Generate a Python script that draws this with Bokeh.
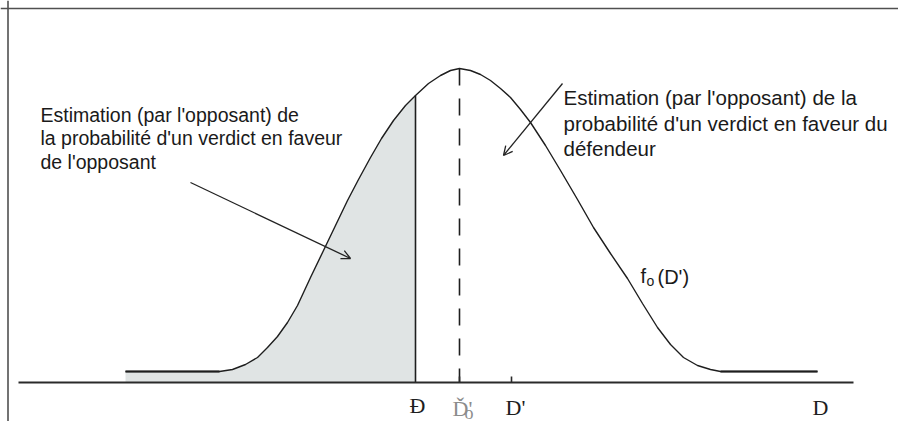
from bokeh.plotting import figure
from bokeh.models import Range1d, Span, Arrow, OpenHead
from bokeh.core.properties import value
from bokeh.embed import file_html
from bokeh.resources import INLINE

# ---- data (horizontal position, height above the D axis) ----
curve_x = [125, 219, 232, 245, 257, 267, 277, 287, 297, 310, 323, 335, 347, 358, 370,
           381, 393, 405, 415, 428, 440, 450, 459, 470, 480, 490, 500, 510, 520, 530,
           545, 560, 577, 593, 610, 627, 642, 657, 670, 683, 697, 710, 720, 817]
curve_h = [11, 11, 13, 18, 25, 35, 46, 60, 77, 105, 132, 157, 182, 203, 225,
           244, 262, 277, 287, 299, 307, 312, 314, 312, 308, 302, 294, 285, 273, 260,
           237, 212, 183, 155, 129, 104, 79, 55, 38, 25, 17, 13, 11, 11]

cut_x = 415      # Đ
mode_x = 459     # Ď'o
dprime_x = 511   # D'
dmax_x = 817     # D
axis_x = [18, 853]

left_lines = ["Estimation (par l'opposant) de",
              "la probabilité d'un verdict en faveur",
              "de l'opposant"]
right_lines = ["Estimation (par l'opposant) de la",
               "probabilité d'un verdict en faveur du",
               "défendeur"]

# ---- figure ----
p = figure(width=898, height=421, x_range=Range1d(0, 898), y_range=Range1d(-39, 382),
           output_backend="svg", toolbar_location=None,
           x_axis_type=None, y_axis_type=None, min_border=0)
p.outline_line_color = None
p.background_fill_color = "white"
p.border_fill_color = "white"

# frame border (top & left visible)
p.add_layout(Span(location=7.5, dimension="height", line_color="#505050", line_width=1.6))
p.add_layout(Span(location=374, dimension="width", line_color="#505050", line_width=1.6))

# shaded area left of Đ
shade_x = [x for x in curve_x if x <= cut_x]
shade_h = curve_h[:len(shade_x)]
p.varea(x=shade_x, y1=[0] * len(shade_x), y2=shade_h, fill_color="#e0e4e4")

# curve
p.line(curve_x, curve_h, line_color="#1e1e1e", line_width=1.4)
p.line(curve_x[:2], curve_h[:2], line_color="#1e1e1e", line_width=2.2)
p.line(curve_x[-2:], curve_h[-2:], line_color="#1e1e1e", line_width=2.2)

# vertical at Đ
cut_h = curve_h[curve_x.index(cut_x)]
p.segment(x0=[cut_x], y0=[0], x1=[cut_x], y1=[cut_h], line_color="#1e1e1e", line_width=1.6)

# dashed at mode
peak_h = curve_h[curve_x.index(mode_x)]
p.segment(x0=[mode_x], y0=[peak_h], x1=[mode_x], y1=[0], line_color="#1e1e1e",
          line_width=1.6, line_dash="17 13")

# axis
p.line(axis_x, [0, 0], line_color="#2a2a2a", line_width=2.2)
p.segment(x0=[mode_x, dprime_x], y0=[0, 0], x1=[mode_x, dprime_x], y1=[6, 6],
          line_color="#2a2a2a", line_width=1.6)

# annotation texts
sans = value("Liberation Sans")
p.text(x=[40] * 3, y=[268, 244.5, 221], text=left_lines, text_font=sans,
       text_font_size="19.5px", text_color="#1a1a1a", text_baseline="alphabetic")
p.text(x=[563] * 3, y=[285, 259.5, 234], text=right_lines, text_font=sans,
       text_font_size="20.5px", text_color="#1a1a1a", text_baseline="alphabetic")

# f_o(D')
p.text(x=[640], y=[107], text=["f"], text_font=sans, text_font_size="20px",
       text_color="#1a1a1a", text_baseline="alphabetic")
p.text(x=[646], y=[102], text=["o"], text_font=sans, text_font_size="14px",
       text_color="#1a1a1a", text_baseline="alphabetic")
p.text(x=[657], y=[106], text=["(D')"], text_font=sans, text_font_size="20px",
       text_color="#1a1a1a", text_baseline="alphabetic")

# arrows
head = dict(size=9, line_width=1.3, line_color="#222222")
p.add_layout(Arrow(end=OpenHead(**head), x_start=190, y_start=200, x_end=350, y_end=124,
                   line_color="#222222", line_width=1.3))
p.add_layout(Arrow(end=OpenHead(**head), x_start=562, y_start=299, x_end=503, y_end=227,
                   line_color="#222222", line_width=1.3))

# axis labels
serif = value("Liberation Serif")
p.text(x=[cut_x - 6, dprime_x - 6, dmax_x - 5], y=[-23, -25, -25], text=["Đ", "D'", "D"],
       text_font=serif, text_font_size="22px", text_color="#1e1e1e",
       text_baseline="alphabetic")
p.text(x=[mode_x - 7], y=[-26], text=["Ď'"], text_font=serif, text_font_size="22px",
       text_color="#8c8c8c", text_baseline="alphabetic")
p.text(x=[mode_x + 5], y=[-30], text=["o"], text_font=serif, text_font_size="18px",
       text_color="#8c8c8c", text_baseline="alphabetic")

open("out.html", "w").write(file_html(p, INLINE))
